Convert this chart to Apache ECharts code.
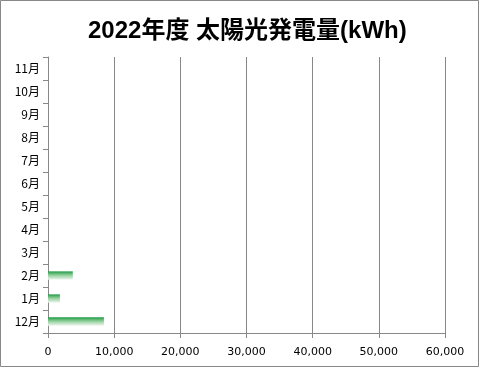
<!DOCTYPE html>
<html><head><meta charset="utf-8">
<script src="https://cdn.jsdelivr.net/npm/echarts@6/dist/echarts.min.js"></script>
<style>html,body{margin:0;padding:0;background:#fff}#c{width:485px;height:369px}</style>
</head><body><div id="c"></div>
<script>
const titleText = '2022年度 太陽光発電量(kWh)';
const months = ['12月','1月','2月','3月','4月','5月','6月','7月','8月','9月','10月','11月'];
const values = [8450, 1800, 3750, null, null, null, null, null, null, null, null, null];
const xTicks = [0, 10000, 20000, 30000, 40000, 50000, 60000];

const chart = echarts.init(document.getElementById('c'), null, {renderer:'canvas'});
chart.setOption({
  animation: false,
  backgroundColor: '#fff',
  graphic: [{type:'rect', shape:{x:0.5,y:0.5,width:478,height:366}, style:{fill:'none', stroke:'#888', lineWidth:1}, z:-1}],
  title: {text: titleText, left: 83, top: 14,
    textStyle:{fontFamily:'"Liberation Sans", "Noto Sans CJK JP"', fontSize:24, fontWeight:'bold', color:'#000'}},
  grid: {left:48, right:40, top:57, bottom:36, containLabel:false},
  xAxis: {type:'value', min:xTicks[0], max:xTicks[xTicks.length-1], interval:10000,
    axisLine:{show:true, lineStyle:{color:'#888'}},
    axisTick:{show:true, length:5, lineStyle:{color:'#888'}},
    splitLine:{show:true, lineStyle:{color:'#888'}},
    axisLabel:{color:'#000', fontFamily:'"DejaVu Sans"', fontSize:11, margin:14,
      formatter: v => v.toLocaleString('en-US')}},
  yAxis: {type:'category', data: months,
    axisLine:{show:true, lineStyle:{color:'#888'}},
    axisTick:{show:true, length:5, lineStyle:{color:'#888'}},
    axisLabel:{color:'#000', fontFamily:'"Noto Sans CJK JP"', fontSize:12, margin:8}},
  series: [{type:'bar', data: values, barWidth:'36%',
    itemStyle:{color: new echarts.graphic.LinearGradient(0,0,0,1,[
      {offset:0, color:'#1f9a45'}, {offset:0.45, color:'#8fcf98'}, {offset:1, color:'#eef5ee'}])}}]
});
</script></body></html>
